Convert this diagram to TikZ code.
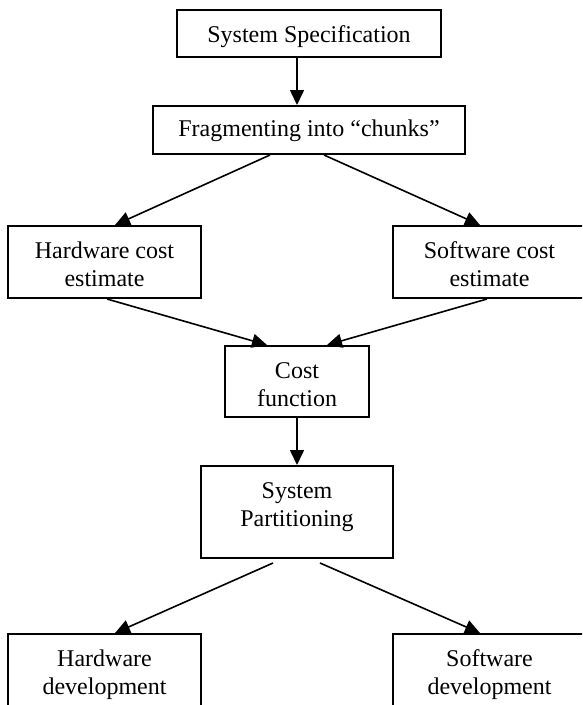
\documentclass[tikz,border=0pt]{standalone}
\usepackage{fontspec}
\setmainfont{Liberation Serif}
\usetikzlibrary{arrows.meta,calc}
\begin{document}
\begin{tikzpicture}[x=1pt,y=-1pt,
  box/.style={draw,line width=2pt,inner sep=0pt,rectangle},
  txt/.style={align=center,inner sep=0pt,anchor=base,font=\fontsize{24}{28}\selectfont},
  arr/.style={line width=1.6pt,-{Triangle[length=15pt,width=14pt]}}]
\clip (0,0) rectangle (582,705);
\node[box,minimum width=264pt,minimum height=47pt] (spec) at (309,33.5) {};
\node[box,minimum width=312pt,minimum height=48pt] (frag) at (309,130) {};
\node[box,minimum width=193pt,minimum height=72pt] (hwc) at (104.5,262) {};
\node[box,minimum width=193pt,minimum height=72pt] (swc) at (489.5,262) {};
\node[box,minimum width=144pt,minimum height=71pt] (costf) at (297,381.5) {};
\node[box,minimum width=192pt,minimum height=92pt] (part) at (297,512) {};
\node[box,minimum width=193pt,minimum height=106pt] (hwd) at (104.5,687) {};
\node[box,minimum width=193pt,minimum height=106pt] (swd) at (489.5,687) {};
\node[txt] (spec-t) at ($(spec.north)+(0,33)$) {System Specification};
\node[txt] (frag-t) at ($(frag.north)+(0,31)$) {Fragmenting into “chunks”};
\node[txt] (hwc-t) at ($(hwc.north)+(0,61)$) {Hardware cost\\estimate};
\node[txt] (swc-t) at ($(swc.north)+(0,61)$) {Software cost\\estimate};
\node[txt] (costf-t) at ($(costf.north)+(0,61)$) {Cost\\function};
\node[txt] (part-t) at ($(part.north)+(0,61)$) {System\\Partitioning};
\node[txt] (hwd-t) at ($(hwd.north)+(0,61)$) {Hardware\\development};
\node[txt] (swd-t) at ($(swd.north)+(0,61)$) {Software\\development};
\draw[arr] (spec.south -| costf.north) -- (frag.north -| costf.north);
\draw[arr] ($(frag.south)+(-39,0)$) -- ($(hwc.north)+(10.5,0)$);
\draw[arr] ($(frag.south)+(15,0)$) -- ($(swc.north)+(-9.5,0)$);
\draw[arr] ($(hwc.south)+(2.5,0)$) -- ($(costf.north)+(-30,0)$);
\draw[arr] ($(swc.south)+(-2.5,0)$) -- ($(costf.north)+(30,0)$);
\draw[arr] (costf.south) -- (part.north);
\draw[arr] ($(part.south)+(-24,4)$) -- ($(hwd.north)+(10.5,0)$);
\draw[arr] ($(part.south)+(23,4)$) -- ($(swd.north)+(-9.5,0)$);
\end{tikzpicture}
\end{document}
